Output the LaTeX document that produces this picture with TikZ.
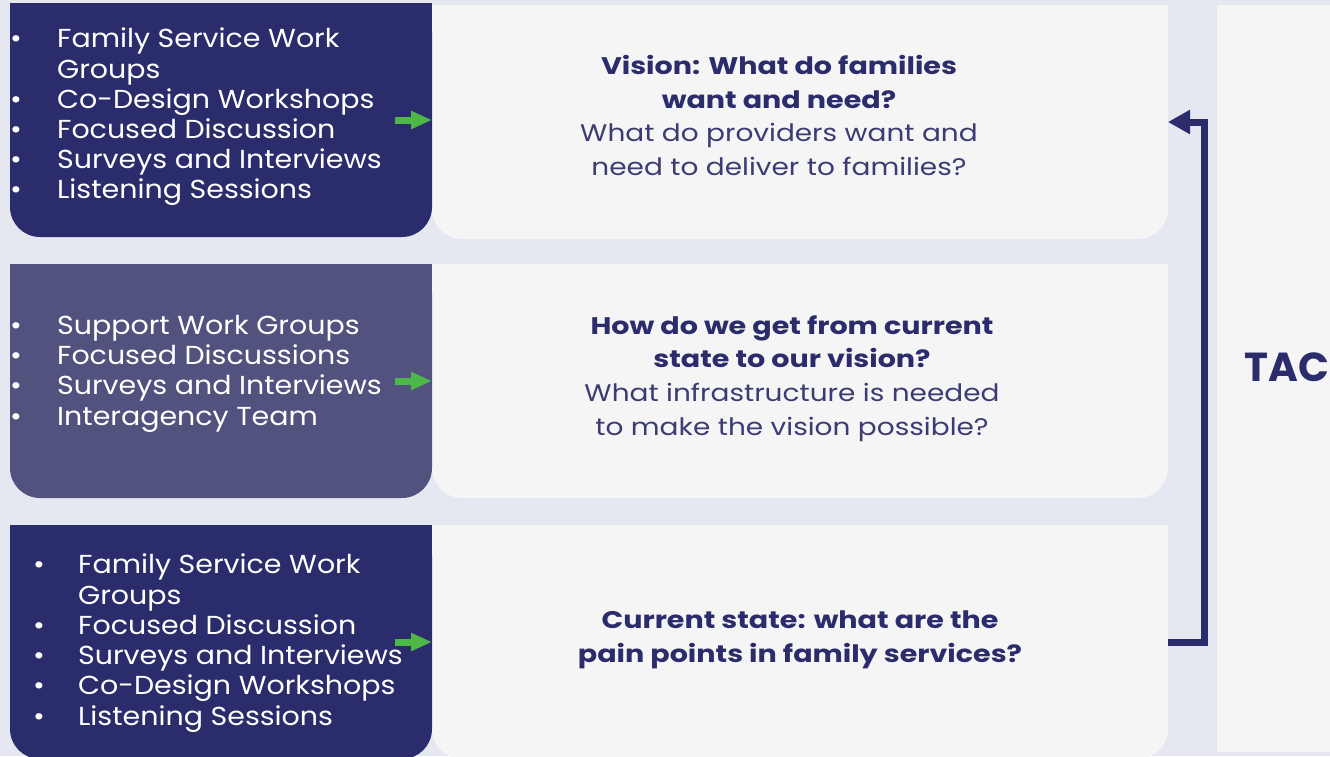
\documentclass[tikz,border=0pt]{standalone}
\usepackage{fontspec}
\setmainfont{Poppins}
\newfontfamily\listfont[FakeStretch=1.095]{Poppins}
\newfontfamily\qfont[FakeStretch=1.165,BoldFeatures={FakeStretch=1.19}]{Poppins}
\newfontfamily\tacfont{Poppins}
\usetikzlibrary{arrows.meta,calc}
\definecolor{bgc}{HTML}{E5E8F1}
\definecolor{navy}{HTML}{2B2C6B}
\definecolor{midnavy}{HTML}{52527F}
\definecolor{paper}{HTML}{F5F5F5}
\definecolor{grn}{HTML}{4DB848}
\definecolor{txt}{HTML}{2B2C6B}
\definecolor{txtl}{HTML}{3B3C74}
\newcommand\blt{\makebox[47pt][l]{\textbullet}}
\newcommand\ind{\makebox[47pt][l]{}}
\newcommand\bltb{\makebox[45pt][l]{\textbullet}}
\newcommand\indb{\makebox[45pt][l]{}}
\begin{document}
\begin{tikzpicture}[x=1pt,y=-1pt,
  boxshape/.style={draw=none,inner sep=0,outer sep=0,rounded corners=30pt},
  darkbox/.style={boxshape,fill=navy,minimum width=422pt,minimum height=234pt},
  midbox/.style={boxshape,fill=midnavy,minimum width=422pt,minimum height=234pt},
  qbox/.style={boxshape,fill=paper,minimum width=736pt,minimum height=234pt},
  listtext/.style={inner sep=0,anchor=north west,align=left,text=white,font=\listfont\fontsize{26}{30.2}\selectfont},
  qtext/.style={inner sep=0,align=center,text=txtl,font=\qfont\fontsize{24}{33.8}\selectfont},
  garrow/.style={draw=grn,line width=7pt,-{Triangle[length=21pt,width=17pt]}},
  conn/.style={draw=navy,line width=7pt,-{Triangle[length=22pt,width=23pt]}}]
\useasboundingbox (0,0) rectangle (1330,756);
\fill[bgc] (0,0) rectangle (1330,756);
\begin{scope}
\clip (0,0) rectangle (1330,756);
% right panel
\node[draw=none,fill=paper,inner sep=0,minimum width=123pt,minimum height=747pt] (tac) at (1278.5,378.5) {};
% white boxes
\node[qbox] (w1) at (800,122) {};
\fill[paper] (w1.north west) rectangle (w1.east);
\node[qbox] (w2) at (800,381) {};
\fill[paper] (w2.north west) rectangle (w2.east);
\node[qbox] (w3) at (800,642) {};
\fill[paper] (w3.north west) rectangle (w3.east);
% left boxes
\node[darkbox] (d1) at (221,120) {};
\fill[navy] (d1.north west) rectangle (d1.east);
\node[midbox] (d2) at (221,381) {};
\fill[midnavy] (d2.north west) rectangle (d2.east);
\node[darkbox] (d3) at (221,642) {};
\fill[navy] (d3.north west) rectangle (d3.east);
\end{scope}
\node[inner sep=0,anchor=west,text=txt,font=\tacfont\fontsize{40.5}{42}\selectfont\bfseries] (tact) at (1244,367) {TAC};
% lists
\node[listtext] (l1) at (10,28) {\blt Family Service Work\\ \ind Groups\\ \blt Co-Design Workshops\\ \blt Focused Discussion\\ \blt Surveys and Interviews\\ \blt Listening Sessions};
\node[listtext] (l2) at (10,315) {\blt Support Work Groups\\ \blt Focused Discussions\\ \blt Surveys and Interviews\\ \blt Interagency Team};
\node[listtext] (l3) at (33,554) {\bltb Family Service Work\\ \indb Groups\\ \bltb Focused Discussion\\ \bltb Surveys and Interviews\\ \bltb Co-Design Workshops\\ \bltb Listening Sessions};
% questions
\node[qtext] (q1) at (779,115.5) {{\bfseries\color{txt}Vision: What do families}\\ {\bfseries\color{txt}want and need?}\\ What do providers want and\\ need to deliver to families?};
\node[qtext] (q2) at (792,378.5) {{\bfseries\color{txt}How do we get from current}\\ {\bfseries\color{txt}state to our vision?}\\ What infrastructure is needed\\ to make the vision possible?};
\node[qtext] (q3) at (800,639.5) {{\bfseries\color{txt}Current state: what are the}\\ {\bfseries\color{txt}pain points in family services?}};
% green arrows
\draw[garrow] ([xshift=-37pt]d1.east) -- (d1.east);
\draw[garrow] ([xshift=-37pt]d2.east) -- (d2.east);
\draw[garrow] ([xshift=-37pt]d3.east) -- (d3.east);
% feedback connector
\draw[conn] (w3.east) -- ++(36,0) |- (w1.east);
\end{tikzpicture}
\end{document}
